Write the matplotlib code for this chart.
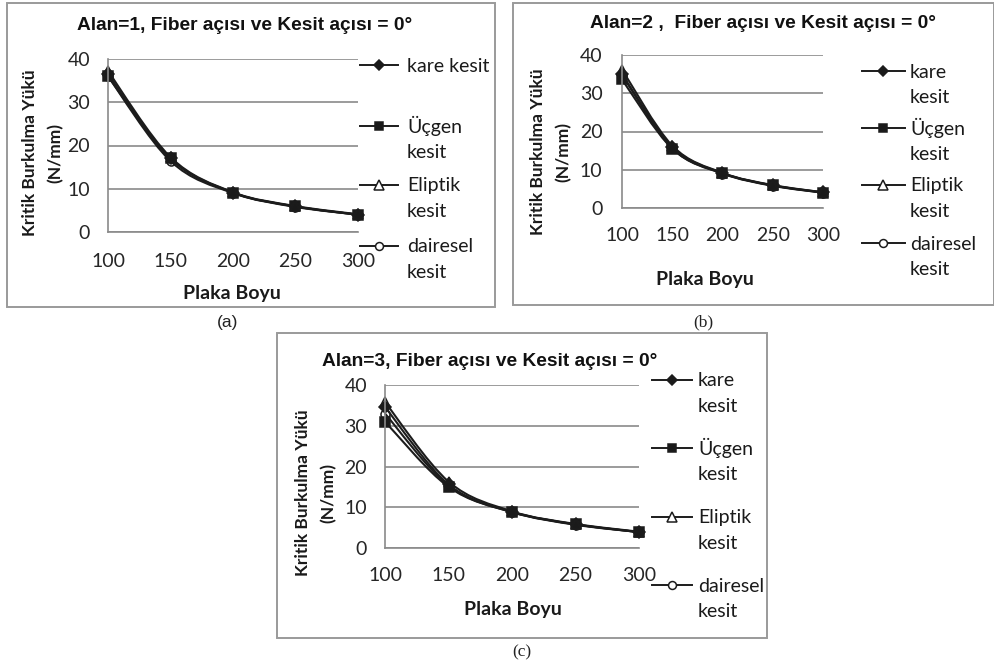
import matplotlib
matplotlib.use("Agg")
import matplotlib.pyplot as plt
from matplotlib.path import Path
from matplotlib.patches import PathPatch, Rectangle
from matplotlib.lines import Line2D

W, H = 995, 670

plaka_boyu = [100, 150, 200, 250, 300]
y_ticks = [0, 10, 20, 30, 40]

# Alan=1
alan1_kare = [36.5, 17.0, 9.1, 5.9, 4.0]
alan1_ucgen = [36.0, 17.0, 9.1, 5.9, 4.0]
alan1_eliptik = [37.2, 17.3, 9.2, 6.0, 4.1]
alan1_dairesel = [36.0, 16.4, 9.0, 5.8, 4.0]

# Alan=2
alan2_kare = [35.0, 16.0, 9.1, 5.9, 4.1]
alan2_ucgen = [33.6, 15.5, 9.1, 5.9, 4.0]
alan2_eliptik = [36.2, 16.3, 9.2, 6.0, 4.1]
alan2_dairesel = [34.8, 15.6, 9.0, 5.8, 4.0]

# Alan=3
alan3_kare = [34.6, 15.6, 8.9, 5.8, 3.9]
alan3_ucgen = [31.0, 15.0, 8.8, 5.8, 3.9]
alan3_eliptik = [35.8, 16.3, 9.0, 5.9, 4.0]
alan3_dairesel = [33.0, 15.3, 8.8, 5.7, 3.9]

basliklar = ["Alan=1, Fiber açısı ve Kesit açısı = 0°",
             "Alan=2 ,  Fiber açısı ve Kesit açısı = 0°",
             "Alan=3, Fiber açısı ve Kesit açısı = 0°"]
etiketler_a = ["kare kesit", "Üçgen\nkesit", "Eliptik\nkesit", "dairesel\nkesit"]
etiketler_bc = ["kare\nkesit", "Üçgen\nkesit", "Eliptik\nkesit", "dairesel\nkesit"]

# marker styles per series: kare, üçgen, eliptik, dairesel
stiller = [dict(marker="D", ms=6.0, mfc="#1a1a1a"),
           dict(marker="s", ms=7.0, mfc="#1a1a1a"),
           dict(marker="^", ms=7.5, mfc="none"),
           dict(marker="o", ms=6.5, mfc="none")]

KOYU = "#1c1c1c"
GRI = "#8a8a8a"
SANS = "Lato"
TITLE_FONT = "Liberation Sans"

fig = plt.figure(figsize=(W / 100, H / 100), dpi=100)


def fx(x):
    return x / W


def fy(y):
    return 1 - y / H


def smooth(xs, ys):
    # catmull-rom style bezier through the points, like excel smoothed lines
    pts = list(zip(xs, ys))
    verts = [pts[0]]
    codes = [Path.MOVETO]
    n = len(pts)
    for i in range(n - 1):
        p0 = pts[i - 1] if i > 0 else pts[i]
        p1 = pts[i]
        p2 = pts[i + 1]
        p3 = pts[i + 2] if i + 2 < n else pts[i + 1]
        c1 = (p1[0] + (p2[0] - p0[0]) / 6, p1[1] + (p2[1] - p0[1]) / 6)
        c2 = (p2[0] - (p3[0] - p1[0]) / 6, p2[1] - (p3[1] - p1[1]) / 6)
        verts += [c1, c2, p2]
        codes += [Path.CURVE4] * 3
    return Path(verts, codes)


def panel(box, axbox, seriler, baslik, bx, by, etiketler, leg, ylab, xlab,
          xpad, ypad, harf):
    # outer frame
    x0, y0, x1, y1 = box
    fig.add_artist(Rectangle((fx(x0), fy(y1)), (x1 - x0) / W, (y1 - y0) / H,
                             transform=fig.transFigure, fill=False,
                             ec="#9a9a9a", lw=1.4))
    ax0, ay0, ax1, ay1 = axbox
    ax = fig.add_axes([fx(ax0), fy(ay1), (ax1 - ax0) / W, (ay1 - ay0) / H])
    ax.set_xlim(100, 300)
    ax.set_ylim(0, 40)
    ax.set_xticks(plaka_boyu)
    ax.set_yticks(y_ticks)
    ax.tick_params(length=0, labelsize=14, colors="#262626")
    ax.tick_params(axis="x", pad=xpad)
    ax.tick_params(axis="y", pad=ypad)
    for lab in ax.get_xticklabels() + ax.get_yticklabels():
        lab.set_fontfamily(SANS)
    ax.grid(axis="y", color=GRI, lw=1.2)
    ax.set_axisbelow(True)
    for s in ["top", "right"]:
        ax.spines[s].set_visible(False)
    ax.spines["left"].set_color(GRI)
    ax.spines["bottom"].set_color(GRI)
    ax.spines["left"].set_linewidth(1.2)
    ax.spines["bottom"].set_linewidth(1.2)

    for ys, st in zip(seriler, stiller):
        ax.add_patch(PathPatch(smooth(plaka_boyu, ys), fill=False,
                               ec=KOYU, lw=1.5, clip_on=False))
        ax.plot(plaka_boyu, ys, ls="none", marker=st["marker"], ms=st["ms"],
                mfc=st["mfc"], mec=KOYU, mew=1.1, clip_on=False)

    fig.text(fx(bx), fy(by), baslik, ha="center", va="center",
             family=TITLE_FONT, weight="bold", fontsize=13.8, color="#111111")

    # y label (two lines) and x label
    lx1, lx2, lyc = ylab
    fig.text(fx(lx1), fy(lyc), "Kritik Burkulma Yükü", rotation=90,
             ha="center", va="center", family=SANS, weight="bold",
             fontsize=12.5, color="#1a1a1a")
    fig.text(fx(lx2), fy(lyc), "(N/mm)", rotation=90, ha="center",
             va="center", family=SANS, weight="bold", fontsize=12.5,
             color="#1a1a1a")
    fig.text(fx(xlab[0]), fy(xlab[1]), "Plaka Boyu", ha="center",
             va="center", family=SANS, weight="bold", fontsize=14,
             color="#1a1a1a")

    # legend
    lx0, lx1_, tx, ys_leg = leg
    for lab, st, yl in zip(etiketler, stiller, ys_leg):
        fig.add_artist(Line2D([fx(lx0), fx((lx0 + lx1_) / 2), fx(lx1_)],
                              [fy(yl)] * 3, transform=fig.transFigure,
                              color=KOYU, lw=1.4, marker=st["marker"],
                              markevery=[1], ms=st["ms"] - 0.8,
                              mfc="white" if st["mfc"] == "none" else st["mfc"],
                              mec=KOYU, mew=1.1))
        for k, satir in enumerate(lab.split("\n")):
            fig.text(fx(tx), fy(yl + k * 25.5 + 6.5), satir, ha="left",
                     va="baseline", family=SANS, fontsize=14,
                     color="#1a1a1a")

    fig.text(fx(harf[0]), fy(harf[1]), harf[2], ha="center", va="center",
             family=harf[3], fontsize=12.5, color="#222222")
    return ax


panel((7, 3, 495, 307), (108, 59, 358, 232),
      [alan1_kare, alan1_ucgen, alan1_eliptik, alan1_dairesel],
      basliklar[0], 245, 25, etiketler_a,
      (360, 398, 407, [65, 126, 185, 246]),
      (30, 55, 153), (232, 293), 15, 13, (228, 323, "(a)", "Liberation Sans"))

panel((513, 3, 994, 305), (622, 55, 823, 208),
      [alan2_kare, alan2_ucgen, alan2_eliptik, alan2_dairesel],
      basliklar[1], 763, 23, etiketler_bc,
      (862, 905, 910, [71, 128, 185, 243]),
      (538, 563, 152), (705, 280), 14, 14, (703, 322, "(b)", "Liberation Serif"))

panel((277, 333, 767, 638), (385, 385, 639, 548),
      [alan3_kare, alan3_ucgen, alan3_eliptik, alan3_dairesel],
      basliklar[2], 490, 362, etiketler_bc,
      (652, 692, 698, [380, 448, 517, 585]),
      (303, 328, 493), (513, 610), 14, 13, (522, 652, "(c)", "Liberation Serif"))

fig.savefig("out.png", dpi=100)
